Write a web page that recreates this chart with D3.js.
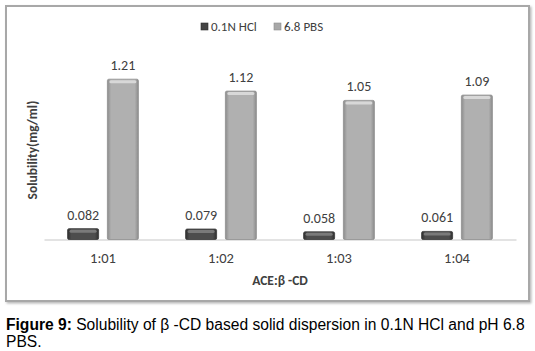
<!DOCTYPE html>
<html>
<head>
<meta charset="utf-8">
<script src="https://cdn.jsdelivr.net/npm/d3@7"></script>
<style>
  body { margin: 0; background: #fff; }
  svg { display: block; }
</style>
</head>
<body>
<svg width="535" height="351"></svg>
<script>
// данные графика
const categories = ["1:01", "1:02", "1:03", "1:04"];
const seriesNames = ["0.1N HCl", "6.8 PBS"];
const hclValues = [0.082, 0.079, 0.058, 0.061];
const pbsValues = [1.21, 1.12, 1.05, 1.09];
const valueLabels = [["0.082", "0.079", "0.058", "0.061"], ["1.21", "1.12", "1.05", "1.09"]];

const svg = d3.select("svg");
const font = "Carlito, Lato, 'Open Sans', sans-serif";

// градиенты для объемных столбцов
const defs = svg.append("defs");
function barGradient(id, edge, mid) {
    const g = defs.append("linearGradient").attr("id", id)
        .attr("x1", "0").attr("x2", "1").attr("y1", "0").attr("y2", "0");
    g.append("stop").attr("offset", "0").attr("stop-color", edge);
    g.append("stop").attr("offset", "0.12").attr("stop-color", mid);
    g.append("stop").attr("offset", "0.88").attr("stop-color", mid);
    g.append("stop").attr("offset", "1").attr("stop-color", edge);
}
barGradient("gHcl", "#2e2e2e", "#4d4d4d");
barGradient("gPbs", "#8c8c8c", "#b0b0b0");
const shadow = defs.append("filter").attr("id", "sh")
    .attr("x", "-5%").attr("y", "-5%").attr("width", "110%").attr("height", "110%");
shadow.append("feDropShadow").attr("dx", 1.5).attr("dy", 1.5)
    .attr("stdDeviation", 1.2).attr("flood-color", "#888").attr("flood-opacity", 0.6);

// рамка
svg.append("rect")
    .attr("x", 6).attr("y", 6).attr("width", 523).attr("height", 295)
    .attr("fill", "#fff").attr("stroke", "#a8a8a8").attr("stroke-width", 2)
    .attr("filter", "url(#sh)");

// шкалы
const x = d3.scaleBand().domain(categories).range([44, 516])
    .paddingInner(0.4).paddingOuter(0.2);
const xs = d3.scaleBand().domain(seriesNames).range([0, x.bandwidth()])
    .paddingInner(0.22);
const y = d3.scaleLinear().domain([0, 1.4]).range([239.5, 54]);

const data = categories.map((c, i) => ({
    cat: c,
    vals: [
        {name: seriesNames[0], v: hclValues[i], label: valueLabels[0][i]},
        {name: seriesNames[1], v: pbsValues[i], label: valueLabels[1][i]}
    ]
}));

// ось X
const xAxis = svg.append("g").attr("transform", "translate(0,239.5)")
    .call(d3.axisBottom(x).tickSize(0).tickPadding(13));
xAxis.select(".domain").attr("stroke", "#c8c8c8").attr("stroke-width", 1.2);
xAxis.selectAll("text").attr("font-family", font).attr("font-size", 14.5)
    .attr("fill", "#404040");

// столбцы
const groups = svg.selectAll(".grp").data(data).join("g")
    .attr("transform", d => `translate(${x(d.cat)},0)`);

const bar = groups.selectAll(".bar").data(d => d.vals).join("g");
bar.append("rect")
    .attr("x", d => xs(d.name))
    .attr("y", d => y(d.v))
    .attr("width", xs.bandwidth())
    .attr("height", d => y(0) - y(d.v))
    .attr("rx", 1.5)
    .attr("fill", (d, i) => i === 0 ? "url(#gHcl)" : "url(#gPbs)")
    .attr("stroke", (d, i) => i === 0 ? "#3a3a3a" : "#8e8e8e")
    .attr("stroke-width", 0.8);
// блик сверху
bar.append("rect")
    .attr("x", d => xs(d.name) + 2)
    .attr("y", d => y(d.v) + 1)
    .attr("width", xs.bandwidth() - 4)
    .attr("height", 3)
    .attr("rx", 1.5)
    .attr("fill", (d, i) => i === 0 ? "#7a7a7a" : "#d8d8d8");

// подписи значений
bar.append("text")
    .attr("x", d => xs(d.name) + xs.bandwidth() / 2)
    .attr("y", (d, i) => y(d.v) - (i === 0 ? 9 : 9))
    .attr("text-anchor", "middle")
    .attr("font-family", font).attr("font-size", 14)
    .attr("fill", "#404040")
    .text(d => d.label);

// подписи осей
svg.append("text")
    .attr("x", 280).attr("y", 285)
    .attr("text-anchor", "middle")
    .attr("font-family", font).attr("font-size", 13.5).attr("font-weight", "bold")
    .attr("fill", "#404040")
    .text("ACE:β -CD");
svg.append("text")
    .attr("transform", "translate(37,150) rotate(-90)")
    .attr("text-anchor", "middle")
    .attr("font-family", font).attr("font-size", 13.5).attr("font-weight", "bold")
    .attr("fill", "#404040")
    .text("Solubility(mg/ml)");

// легенда
const legendX = [201, 274];
const legend = svg.selectAll(".leg").data(seriesNames).join("g")
    .attr("transform", (d, i) => `translate(${legendX[i]},23)`);
legend.append("rect").attr("width", 7).attr("height", 7)
    .attr("fill", (d, i) => i === 0 ? "#444" : "#a8a8a8")
    .attr("stroke", (d, i) => i === 0 ? "#2e2e2e" : "#8c8c8c").attr("stroke-width", 0.6);
legend.append("text").attr("x", 10).attr("y", 8)
    .attr("font-family", font).attr("font-size", 13).attr("fill", "#404040")
    .text(d => d);

// подпись рисунка
const capFont = "Arial, 'Liberation Sans', sans-serif";
const cap = svg.append("text")
    .attr("x", 6).attr("y", 330)
    .attr("font-family", capFont)
    .attr("font-size", 15.6).attr("fill", "#000");
cap.append("tspan").attr("font-weight", "bold").text("Figure 9:");
cap.append("tspan").text(" Solubility of β -CD based solid dispersion in 0.1N HCl and pH 6.8");
svg.append("text")
    .attr("x", 6).attr("y", 347)
    .attr("font-family", capFont)
    .attr("font-size", 15.6).attr("fill", "#000")
    .text("PBS.");
</script>
</body>
</html>
